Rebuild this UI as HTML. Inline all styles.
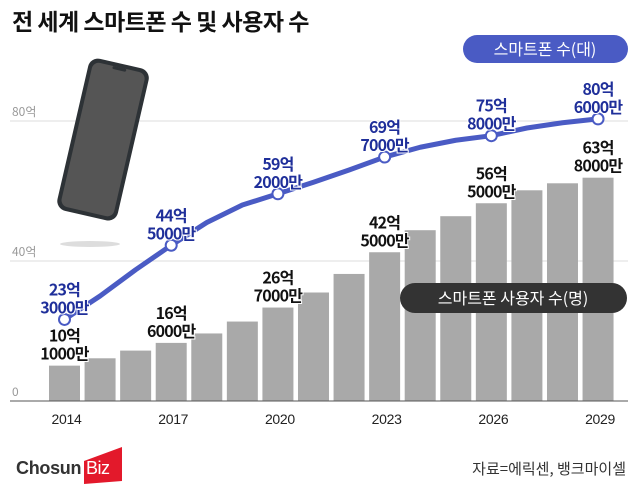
<!DOCTYPE html>
<html><head><meta charset="utf-8"><style>
html,body{margin:0;padding:0;background:#fff;}
svg{display:block;font-family:"Liberation Sans","Noto Sans CJK KR",sans-serif;}
</style></head><body>
<svg id="chart" width="640" height="499" viewBox="0 0 640 499">
<text x="12" y="30" font-size="23" font-weight="bold" fill="#111" font-family="'Noto Sans CJK KR',sans-serif" letter-spacing="-0.5">전 세계 스마트폰 수 및 사용자 수</text>
<g id="grid"></g>
<g>
<ellipse cx="90" cy="244" rx="30" ry="3" fill="#ddd"/>
<g transform="rotate(13 105 140)">
<rect x="72" y="62" width="62" height="156" rx="10" fill="#2d3236"/>
<rect x="76" y="66" width="54" height="148" rx="7" fill="#555"/>
<rect x="96" y="66" width="14" height="3" rx="1.5" fill="#2d3236"/>
</g>
</g>
<g id="bars"></g>
<g id="line"></g>
<g id="labels"></g>
<g id="xaxis"></g>
<g>
<rect x="463" y="35" width="165" height="28" rx="14" fill="#4a5bc4"/>
<text x="545" y="55" font-size="16" fill="#fff" text-anchor="middle" font-family="'Noto Sans CJK KR',sans-serif">스마트폰 수(대)</text>
</g>
<g>
<rect x="400" y="283" width="227" height="30" rx="15" fill="#333"/>
<text x="513" y="304" font-size="16" fill="#fff" text-anchor="middle" font-family="'Noto Sans CJK KR',sans-serif">스마트폰 사용자 수(명)</text>
</g>
<g>
<text x="16" y="474" font-size="18" font-weight="bold" fill="#333" letter-spacing="-0.3">Chosun</text>
<polygon points="84,461 122,447 122,481 84,484" fill="#e3192b"/>
<text x="86" y="474" font-size="18" fill="#fff" letter-spacing="-0.5">Biz</text>
</g>
<text x="626" y="474" font-size="15" fill="#333" text-anchor="end" font-family="'Noto Sans CJK KR',sans-serif">자료=에릭센, 뱅크마이셀</text>
</svg>
<script>
const years = [2014,2015,2016,2017,2018,2019,2020,2021,2022,2023,2024,2025,2026,2027,2028,2029];
const users = [10.1,12.2,14.4,16.6,19.3,22.7,26.7,31.0,36.3,42.5,48.8,52.8,56.5,60.2,62.2,63.8];
const phones = [23.3,30,37.5,44.5,51,56,59.2,62.5,66,69.7,72.5,74.5,75.8,78,79.5,80.6];
const labelYears = [2014,2017,2020,2023,2026,2029];
const phoneLabels = [["23억","3000만"],["44억","5000만"],["59억","2000만"],["69억","7000만"],["75억","8000만"],["80억","6000만"]];
const userLabels = [["10억","1000만"],["16억","6000만"],["26억","7000만"],["42억","5000만"],["56억","5000만"],["63억","8000만"]];
const yTicks = [0,40,80];
const yTickLabels = ["0","40억","80억"];

const NS="http://www.w3.org/2000/svg";
const x0=64.5, dx=35.57, base=401, ppu=3.5;
const X=y=>x0+(y-2014)*dx;
const Y=v=>base-v*ppu;
function mk(tag,parent,attrs){const e=document.createElementNS(NS,tag);for(const k in attrs)e.setAttribute(k,attrs[k]);parent.appendChild(e);return e;}

const grid=document.getElementById('grid');
yTicks.forEach((t,i)=>{
  if(t>0){const l=mk('line',grid,{x1:10,x2:628,y1:Y(t),y2:Y(t),stroke:'#ddd','stroke-width':1});
  
  }
  const tx=mk('text',grid,{x:12,y:Y(t)-5,'font-size':12,fill:'#999','font-family':"'Noto Sans CJK KR',sans-serif"});
  tx.textContent=yTickLabels[i];
  
  
});

const bars=document.getElementById('bars');
years.forEach((yr,i)=>{
  const r=mk('rect',bars,{x:X(yr)-15.5,y:Y(users[i]),width:31,height:users[i]*ppu,fill:'#a9a9a9'});
  
  
});

const xa=document.getElementById('xaxis');
const ax=mk('line',xa,{x1:10,x2:628,y1:base,y2:base,stroke:'#555','stroke-width':1});


labelYears.forEach(yr=>{
  const t=mk('text',xa,{x:X(yr)+2,y:424,'font-size':14,fill:'#222','text-anchor':'middle','letter-spacing':'-0.3'});
  t.textContent=yr;
  
  
});

const lg=document.getElementById('line');
const p=mk('polyline',lg,{points:years.map((yr,i)=>X(yr)+','+Y(phones[i])).join(' '),fill:'none',stroke:'#4a5bc4','stroke-width':5,'stroke-linejoin':'round','stroke-linecap':'round'});


labelYears.forEach(yr=>{
  const i=years.indexOf(yr);
  const c=mk('circle',lg,{cx:X(yr),cy:Y(phones[i]),r:5.5,fill:'#fff',stroke:'#4a5bc4','stroke-width':2});
  
  
});

const lb=document.getElementById('labels');
labelYears.forEach((yr,k)=>{
  const i=years.indexOf(yr);
  const py=Y(phones[i]), by=Y(users[i]);
  [[phoneLabels[k],py,'#1f2f9a','phone-label'],[userLabels[k],by,'#111','user-label']].forEach(([lab,yy,col,nm])=>{
    const t=mk('text',lb,{x:X(yr),'font-size':16,fill:col,'text-anchor':'middle','letter-spacing':'-0.8','font-weight':'bold','font-family':"'Noto Sans CJK KR',sans-serif",stroke:'#fff','stroke-width':2,'paint-order':'stroke'});
    
    
    const a=mk('tspan',t,{x:X(yr),y:yy-24});a.textContent=lab[0];
    const b=mk('tspan',t,{x:X(yr),y:yy-6});b.textContent=lab[1];
  });
});
</script>
</body></html>
